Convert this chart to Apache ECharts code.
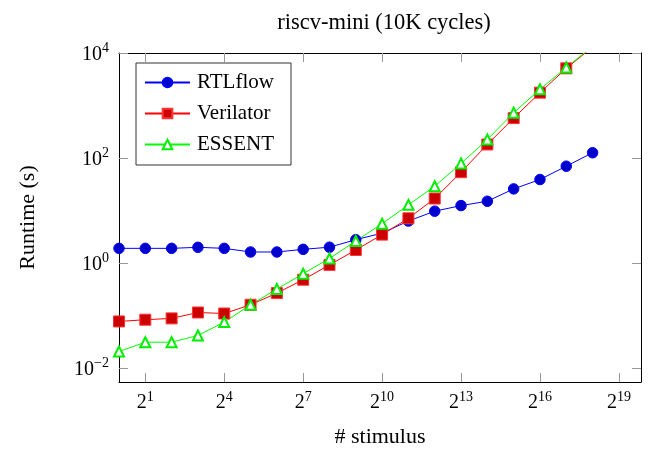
<!DOCTYPE html>
<html><head><meta charset="utf-8">
<script src="https://cdn.jsdelivr.net/npm/echarts@6/dist/echarts.min.js"></script>
<style>html,body{margin:0;padding:0;background:#fff}#c{width:662px;height:450px}</style>
</head><body><div id="c"></div>
<script>
const stimulus = [1,2,4,8,16,32,64,128,256,512,1024,2048,4096,8192,16384,32768,65536,131072,262144];
const rtlflow = [1.9,1.9,1.9,1.99,1.9,1.62,1.62,1.82,2.0,2.78,3.7,6.3,9.7,12.4,15.0,25.8,38.9,69.8,126];
const verilator = [0.077,0.083,0.088,0.114,0.109,0.16,0.267,0.48,0.92,1.77,3.47,7.1,16.9,53.6,181,575,1755,5100,13000];
const essent = [0.0206,0.031,0.031,0.0416,0.0748,0.16,0.319,0.625,1.22,2.63,5.6,12.8,29,78.5,225,729,2030,5280,13500];
const xTicks = [2,16,128,1024,8192,65536,524288];
const yTicks = [0.01,1,100,10000];

const FONT = 'Liberation Serif';
const xMin = 1, xMax = Math.pow(2, 19.84);
const yMin = Math.pow(10, -2.267), yMax = 10000;

const supRich = {
  b: {fontSize: 20, fontFamily: FONT, color: '#000', lineHeight: 23, verticalAlign: 'bottom'},
  s: {fontSize: 14, fontFamily: FONT, color: '#000', lineHeight: 14, verticalAlign: 'top'}
};
function xFmt(v) { const e = Math.round(Math.log2(v)); return '{b|2}{s|' + e + '}'; }
function yFmt(v) { const e = Math.round(Math.log10(v)); return '{b|10}{s|' + (e < 0 ? '\u2212' + (-e) : e) + '}'; }

function xAxisDef(pos, showLabel) {
  return {
    type: 'log', logBase: 2, min: xMin, max: xMax, position: pos,
    name: showLabel ? '# stimulus' : '', nameLocation: 'middle', nameGap: 44,
    nameTextStyle: {fontSize: 22, fontFamily: FONT, color: '#000'},
    axisLine: {show: true, onZero: false, lineStyle: {color: '#000', width: 1}},
    axisTick: {show: true, inside: true, length: 9, customValues: xTicks, lineStyle: {color: '#999'}},
    axisLabel: {show: showLabel, customValues: xTicks, formatter: xFmt, rich: supRich, margin: 8},
    splitLine: {show: false}, minorTick: {show: false}
  };
}
function yAxisDef(pos, showLabel) {
  return {
    type: 'log', logBase: 10, min: yMin, max: yMax, position: pos,
    name: showLabel ? 'Runtime (s)' : '', nameLocation: 'middle', nameGap: 80,
    nameTextStyle: {fontSize: 22, fontFamily: FONT, color: '#000'},
    axisLine: {show: true, onZero: false, lineStyle: {color: '#000', width: 1}},
    axisTick: {show: true, inside: true, length: 9, customValues: yTicks, lineStyle: {color: '#999'}},
    axisLabel: {show: showLabel, customValues: yTicks, formatter: yFmt, rich: supRich, margin: 10},
    splitLine: {show: false}, minorTick: {show: false}
  };
}

const chart = echarts.init(document.getElementById('c'), null, {renderer: 'canvas'});
chart.setOption({
  animation: false,
  backgroundColor: '#fff',
  title: {text: 'riscv-mini (10K cycles)', left: 379, top: 7, textAlign: 'center',
    textStyle: {fontSize: 22.5, fontWeight: 'normal', fontFamily: FONT, color: '#000'}},
  grid: {left: 119, right: 21, top: 53, bottom: 68, containLabel: false, outerBoundsMode: 'none'},
  legend: {
    orient: 'vertical', left: 136, top: 63, itemWidth: 45, itemHeight: 12, itemGap: 10,
    padding: [9, 17, 10, 8], borderColor: '#333', borderWidth: 1, backgroundColor: '#fff',
    textStyle: {fontSize: 21, fontFamily: FONT, color: '#000', padding: [0, 0, 0, 2]},
    data: ['RTLflow', 'Verilator', 'ESSENT']
  },
  xAxis: [xAxisDef('bottom', true), xAxisDef('top', false)],
  yAxis: [yAxisDef('left', true), yAxisDef('right', false)],
  series: [
    {name: 'RTLflow', type: 'line', data: stimulus.map((s, i) => [s, rtlflow[i]]),
      symbol: 'circle', symbolSize: 10.5, showAllSymbol: true,
      itemStyle: {color: '#0000cc', borderColor: '#0000ff', borderWidth: 1},
      lineStyle: {color: '#0000ff', width: 1}},
    {name: 'Verilator', type: 'line', data: stimulus.map((s, i) => [s, verilator[i]]),
      symbol: 'rect', symbolSize: 11, showAllSymbol: true,
      itemStyle: {color: '#cc0000', borderColor: '#ff3333', borderWidth: 1},
      lineStyle: {color: '#ff0000', width: 1}},
    {name: 'ESSENT', type: 'line', data: stimulus.map((s, i) => [s, essent[i]]),
      symbol: 'emptyTriangle', symbolSize: 10, showAllSymbol: true,
      itemStyle: {color: '#00ee00', borderColor: '#00ee00', borderWidth: 1},
      lineStyle: {color: '#00ff00', width: 1}}
  ]
});
</script></body></html>
